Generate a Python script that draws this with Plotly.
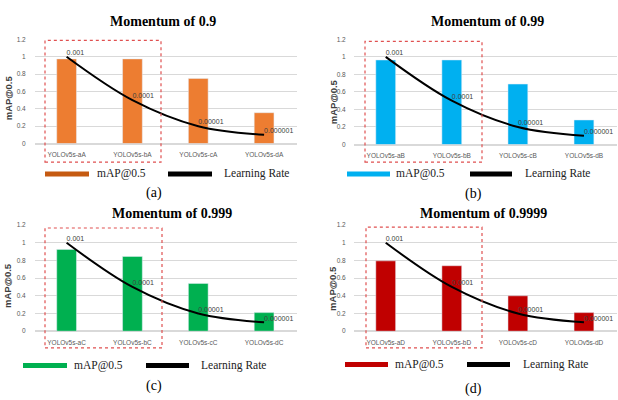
import plotly.graph_objects as go

W, H = 618, 400

categories_a = ["YOLOv5s-aA", "YOLOv5s-bA", "YOLOv5s-cA", "YOLOv5s-dA"]
categories_b = ["YOLOv5s-aB", "YOLOv5s-bB", "YOLOv5s-cB", "YOLOv5s-dB"]
categories_c = ["YOLOv5s-aC", "YOLOv5s-bC", "YOLOv5s-cC", "YOLOv5s-dC"]
categories_d = ["YOLOv5s-aD", "YOLOv5s-bD", "YOLOv5s-cD", "YOLOv5s-dD"]

map_a = [0.975, 0.975, 0.75, 0.355]
map_b = [0.965, 0.965, 0.69, 0.28]
map_c = [0.925, 0.845, 0.54, 0.21]
map_d = [0.795, 0.74, 0.40, 0.21]

lr_plot = [1.0, 0.5, 0.2, 0.1]
lr_labels = ["0.001", "0.0001", "0.00001", "0.000001"]

titles = ["Momentum of 0.9", "Momentum of 0.99", "Momentum of 0.999", "Momentum of 0.9999"]
sub_labels = ["(a)", "(b)", "(c)", "(d)"]
colors = ["#ED7D31", "#00B0F0", "#00B050", "#C00000"]


def px(x):
    return x / W


def py(y):
    return 1 - y / H


panels = [
    dict(cats=categories_a, vals=map_a, xd=(35, 297), yd=(142, 36),
         title=(163, 18), box=(45, 37, 161, 161), ytitle=(8, 96),
         leg=(45, 89, 95, 168, 212, 222, 173), sub=(154, 192)),
    dict(cats=categories_b, vals=map_b, xd=(354, 617), yd=(143, 36),
         title=(488, 18), box=(365, 38, 482, 161), ytitle=(333, 100),
         leg=(347, 390, 394, 470, 512, 523, 173), sub=(473, 193)),
    dict(cats=categories_c, vals=map_c, xd=(35, 297), yd=(333, 225),
         title=(172, 213), box=(45, 228, 162, 350), ytitle=(8, 287),
         leg=(23, 67, 72, 146, 189, 199, 368), sub=(154, 389)),
    dict(cats=categories_d, vals=map_d, xd=(354, 617), yd=(333, 225),
         title=(483, 213), box=(366, 227, 482, 350), ytitle=(333, 290),
         leg=(345, 388, 393, 467, 510, 521, 367), sub=(473, 392)),
]

fig = go.Figure()
shapes = []
annotations = []
sans = "Liberation Sans, Arial, sans-serif"
serif = "Liberation Serif, Times New Roman, serif"

for i, p in enumerate(panels):
    n = "" if i == 0 else str(i + 1)
    xa, ya = "x" + n, "y" + n
    fig.add_trace(go.Bar(x=p["cats"], y=p["vals"], marker_color=colors[i],
                         width=0.3, xaxis=xa, yaxis=ya, showlegend=False,
                         hoverinfo="x+y"))
    fig.add_trace(go.Scatter(x=p["cats"], y=lr_plot, mode="lines+text",
                             line=dict(color="black", width=2, shape="spline", smoothing=1),
                             text=lr_labels, textposition="top right",
                             textfont=dict(size=7, color="#404040", family=sans),
                             cliponaxis=False,
                             xaxis=xa, yaxis=ya, showlegend=False))
    fig.layout["xaxis" + n] = dict(
        domain=[px(p["xd"][0]), px(p["xd"][1])], anchor=ya,
        range=[-0.48, 3.5], showgrid=False, showline=False, zeroline=False,
        ticks="outside", ticklen=5, tickcolor="rgba(0,0,0,0)",
        tickfont=dict(size=6.5, color="#595959", family=sans), fixedrange=True)
    fig.layout["yaxis" + n] = dict(
        domain=[py(p["yd"][0]), py(p["yd"][1])], anchor=xa,
        range=[0, 1.2], tickvals=[0, 0.2, 0.4, 0.6, 0.8, 1, 1.2],
        ticktext=["0", "0.2", "0.4", "0.6", "0.8", "1", "1.2"],
        showgrid=True, gridcolor="#D9D9D9", gridwidth=1, zeroline=True,
        zerolinecolor="#D9D9D9", showline=False,
        ticks="outside", ticklen=7 if i in (0, 2) else 6, tickcolor="rgba(0,0,0,0)",
        tickfont=dict(size=6.5, color="#595959", family=sans), fixedrange=True)

    annotations.append(dict(x=px(p["title"][0]), y=py(p["title"][1]), xref="paper", yref="paper",
                            text="<b>" + titles[i] + "</b>", showarrow=False,
                            font=dict(size=14, family=serif, color="black"),
                            xanchor="center", yanchor="middle"))
    annotations.append(dict(x=px(p["ytitle"][0]), y=py(p["ytitle"][1]), xref="paper", yref="paper",
                            text="<b>mAP@0.5</b>", textangle=-90, showarrow=False,
                            font=dict(size=9.5, family=sans, color="#404040"),
                            xanchor="center", yanchor="middle"))
    bx0, by0, bx1, by1 = p["box"]
    shapes.append(dict(type="rect", xref="paper", yref="paper",
                       x0=px(bx0), x1=px(bx1), y0=py(by1), y1=py(by0),
                       line=dict(color="#E05050", width=1.2, dash="dot")))
    s0, s1, t0, k0, k1, t1, ly = p["leg"]
    shapes.append(dict(type="rect", xref="paper", yref="paper",
                       x0=px(s0), x1=px(s1), y0=py(ly + 2.5), y1=py(ly - 2.5),
                       fillcolor=colors[i] if i != 0 else "#C55A11", line=dict(width=0)))
    shapes.append(dict(type="rect", xref="paper", yref="paper",
                       x0=px(k0), x1=px(k1), y0=py(ly + 2.5), y1=py(ly - 2.5),
                       fillcolor="black", line=dict(width=0)))
    annotations.append(dict(x=px(t0), y=py(ly), xref="paper", yref="paper",
                            text="mAP@0.5", showarrow=False, xanchor="left", yanchor="middle",
                            font=dict(size=11.5, family=serif, color="#222222")))
    annotations.append(dict(x=px(t1), y=py(ly), xref="paper", yref="paper",
                            text="Learning Rate", showarrow=False, xanchor="left", yanchor="middle",
                            font=dict(size=11.5, family=serif, color="#222222")))
    annotations.append(dict(x=px(p["sub"][0]), y=py(p["sub"][1]), xref="paper", yref="paper",
                            text=sub_labels[i], showarrow=False, xanchor="center", yanchor="middle",
                            font=dict(size=14, family=serif, color="black")))

fig.update_layout(width=W, height=H, margin=dict(l=0, r=0, t=0, b=0),
                  paper_bgcolor="white", plot_bgcolor="white",
                  shapes=shapes, annotations=annotations, showlegend=False)

fig.write_html("out.html", config={"displayModeBar": False},
               post_script="document.body.style.margin='0';document.body.style.overflow='hidden';")
